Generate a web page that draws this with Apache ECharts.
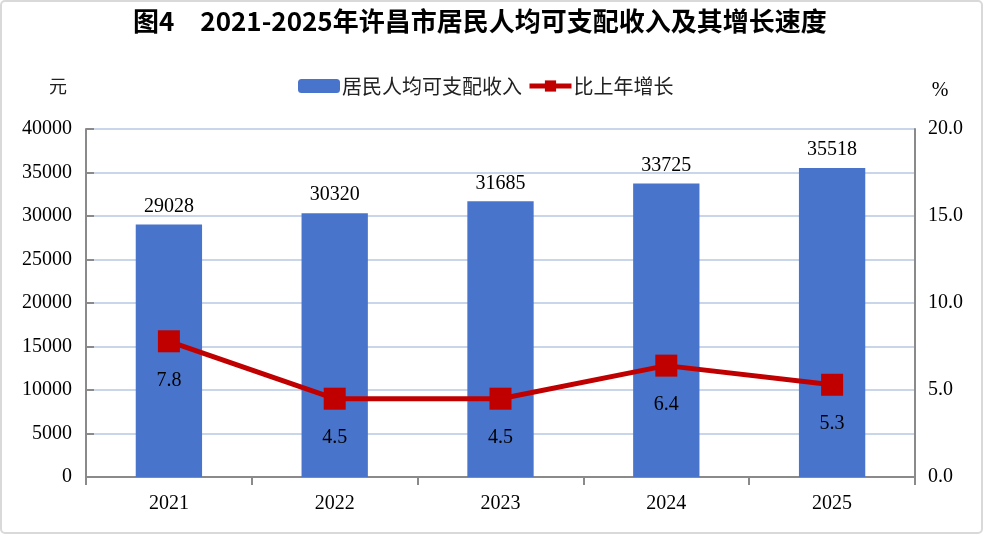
<!DOCTYPE html>
<html>
<head>
<meta charset="utf-8">
<title>图4</title>
<script src="https://cdn.jsdelivr.net/npm/echarts@6/dist/echarts.min.js"></script>
<style>
  html,body{margin:0;padding:0;background:#fff;}
  #main{width:983px;height:534px;}
</style>
</head>
<body>
<div id="main"></div>
<script>
// 年份
var years = ['2021', '2022', '2023', '2024', '2025'];
// 居民人均可支配收入（元）
var income = [29028, 30320, 31685, 33725, 35518];
// 比上年增长（%）
var growth = [7.8, 4.5, 4.5, 6.4, 5.3];

var numFont = 'Liberation Serif';
var cnFont = 'Noto Sans CJK SC';

var myChart = echarts.init(document.getElementById('main'));
var option = {
  animation: false,
  backgroundColor: '#fff',
  // 外框
  graphic: [{
    type: 'rect',
    shape: {x: 1, y: 1, width: 981, height: 532, r: 4},
    style: {fill: 'none', stroke: '#d9d9d9', lineWidth: 2},
    silent: true
  }],
  title: {
    text: '图4　2021-2025年许昌市居民人均可支配收入及其增长速度',
    left: 128,
    top: 3,
    textStyle: {
      fontFamily: cnFont,
      fontSize: 26,
      fontWeight: 'bold',
      color: '#000'
    }
  },
  legend: {
    top: 71,
    left: 293,
    itemGap: 5,
    itemWidth: 42,
    itemHeight: 14,
    textStyle: {fontFamily: cnFont, fontSize: 20, color: '#222', padding: [0, 0, 0, -3]},
    data: [
      {name: '居民人均可支配收入'},
      {name: '比上年增长', lineStyle: {width: 5, color: '#c00000'}, itemStyle: {color: '#c00000'}}
    ]
  },
  grid: {left: 86, right: 68, top: 129, bottom: 57},
  xAxis: {
    type: 'category',
    data: years,
    axisLine: {lineStyle: {color: '#8a8a8a', width: 2}},
    axisTick: {show: true, length: 8, lineStyle: {color: '#8a8a8a', width: 2}},
    axisLabel: {fontFamily: numFont, fontSize: 20, color: '#000', margin: 17}
  },
  yAxis: [
    {
      type: 'value',
      name: '元',
      nameLocation: 'end',
      nameGap: 34,
      nameTextStyle: {fontFamily: cnFont, fontSize: 18, color: '#222', padding: [0, 56, 0, 0]},
      min: 0,
      max: 40000,
      interval: 5000,
      axisLine: {show: true, lineStyle: {color: '#8a8a8a', width: 2}},
      axisTick: {show: true, inside: true, length: 8, lineStyle: {color: '#8a8a8a', width: 2}},
      axisLabel: {
        fontFamily: numFont, fontSize: 20, color: '#000', margin: 14,
        formatter: function (v) { return String(v); }
      },
      splitLine: {lineStyle: {color: '#c9d6ea', width: 2}}
    },
    {
      type: 'value',
      name: '%',
      nameLocation: 'end',
      nameGap: 28,
      nameTextStyle: {fontFamily: numFont, fontSize: 20, color: '#000', padding: [0, 0, 0, 50]},
      min: 0,
      max: 20,
      interval: 5,
      position: 'right',
      axisLine: {show: true, lineStyle: {color: '#8a8a8a', width: 2}},
      axisTick: {show: false},
      axisLabel: {
        fontFamily: numFont, fontSize: 20, color: '#000', margin: 13,
        formatter: function (v) { return v.toFixed(1); }
      },
      splitLine: {show: false}
    }
  ],
  series: [
    {
      name: '居民人均可支配收入',
      type: 'bar',
      yAxisIndex: 0,
      barWidth: '40%',
      itemStyle: {color: '#4874cb'},
      label: {
        show: true,
        position: 'top',
        distance: 8,
        fontFamily: numFont,
        fontSize: 20,
        color: '#000'
      },
      data: income
    },
    {
      name: '比上年增长',
      type: 'line',
      yAxisIndex: 1,
      symbol: 'rect',
      symbolSize: 22,
      lineStyle: {color: '#c00000', width: 5},
      itemStyle: {color: '#c00000'},
      label: {
        show: true,
        position: 'bottom',
        distance: 18,
        fontFamily: numFont,
        fontSize: 20,
        color: '#000',
        formatter: function (p) { return p.value.toFixed(1); }
      },
      data: growth
    }
  ]
};
myChart.setOption(option);
</script>
</body>
</html>
